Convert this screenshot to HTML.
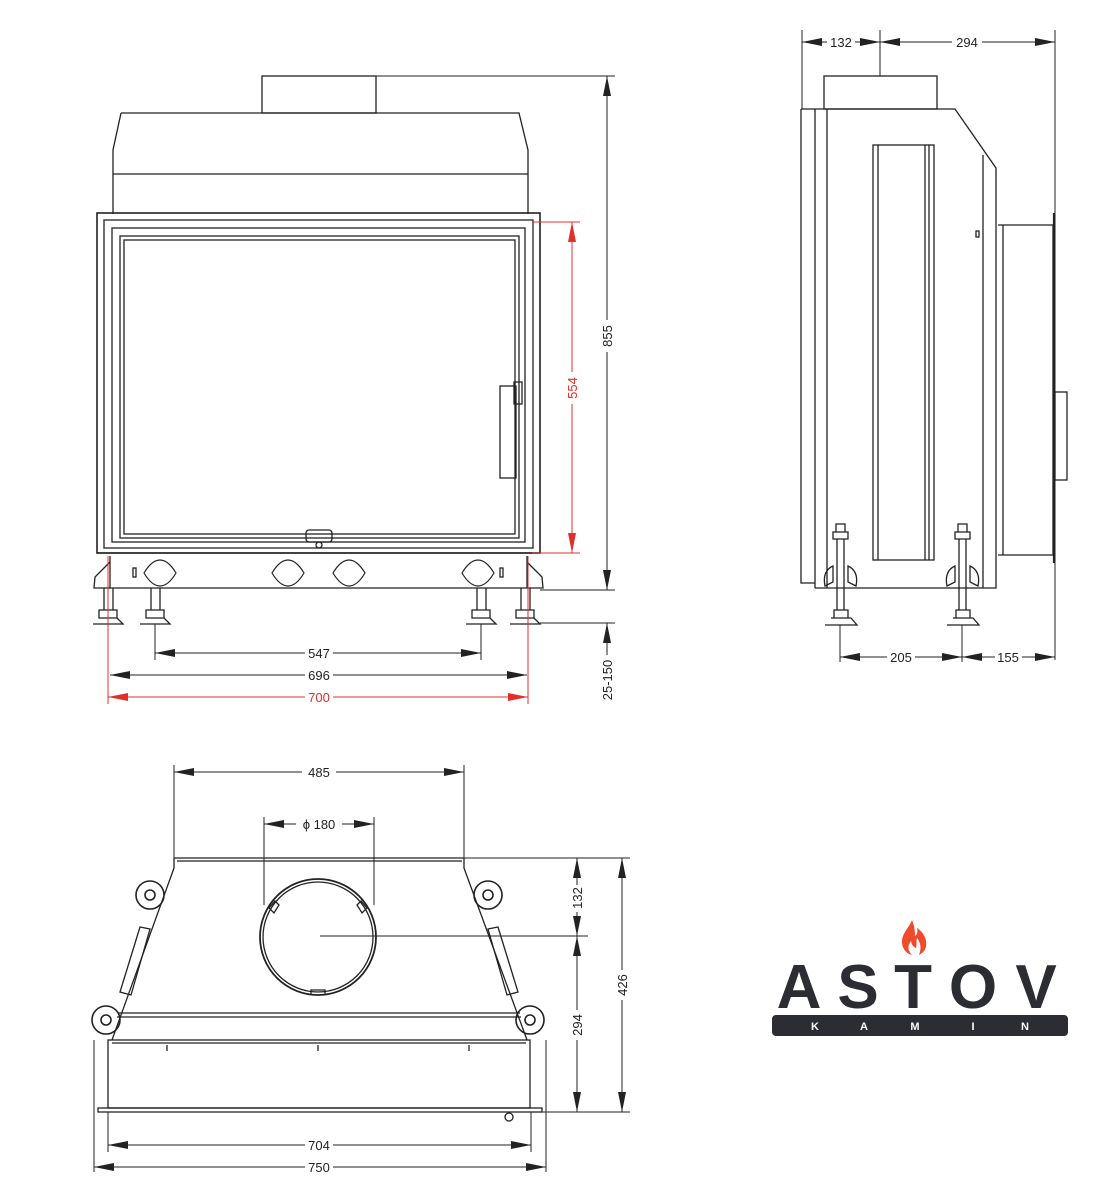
<!DOCTYPE html>
<html><head><meta charset="utf-8"><style>
html,body{margin:0;padding:0;background:#fff}
svg{display:block}
text{font-family:"Liberation Sans",Arial,sans-serif}
</style></head><body>
<svg width="1120" height="1200" viewBox="0 0 1120 1200" xmlns="http://www.w3.org/2000/svg">
<defs>
<marker id="a" viewBox="0 0 20 8" refX="20" refY="4" markerWidth="20" markerHeight="8" orient="auto-start-reverse" markerUnits="userSpaceOnUse"><path d="M0,0L20,4L0,8z" fill="#222"/></marker>
<marker id="r" viewBox="0 0 20 8" refX="20" refY="4" markerWidth="20" markerHeight="8" orient="auto-start-reverse" markerUnits="userSpaceOnUse"><path d="M0,0L20,4L0,8z" fill="#e0302a"/></marker>
<path id="ov" d="M-16,0 C-10,-10 -5,-13 0,-13 C5,-13 10,-10 16,0 C10,10 5,13 0,13 C-5,13 -10,10 -16,0Z"/>
</defs>
<g fill="none" stroke="#222" stroke-width="1.3">
<rect x="262" y="76" width="114" height="37"/>
<path d="M121,113 L519,113 L528,150 L528,214 M113,214 L113,150 L121,113"/>
<line x1="113" y1="174" x2="528" y2="174"/>
<rect x="97" y="213" width="443" height="340" stroke-width="1.6"/>
<rect x="104" y="220" width="429" height="328"/>
<rect x="112" y="228" width="413" height="314"/>
<rect x="120" y="236" width="399" height="302"/>
<rect x="124" y="240" width="391" height="294"/>
<rect x="500" y="386" width="16" height="92"/>
<rect x="514" y="382" width="8" height="22"/>
<rect x="306" y="530" width="26" height="12" rx="3"/>
<circle cx="319" cy="545" r="3"/>
<path d="M97,553 L540,553 M110,556 L110,588 L527,588 L527,556"/>
<path d="M110,562 L95,577 L94,588 L110,588 M527,562 L542,577 L543,588 L527,588"/>
<g stroke-width="1.2">
<use href="#ov" x="160" y="573"/>
<use href="#ov" x="288" y="573"/>
<use href="#ov" x="349" y="573"/>
<use href="#ov" x="478" y="573"/>
</g>
<rect x="133" y="568" width="3" height="9"/><rect x="500" y="568" width="3" height="9"/>
<g>
<path d="M104,588 V610 M113,588 V610 M99,610 h18 v8 h-18z M93,624 L123,624 L117,618 L99,618"/>
<path d="M151,588 V610 M160,588 V610 M146,610 h18 v8 h-18z M140,624 L170,624 L164,618 L146,618"/>
<path d="M477,588 V610 M486,588 V610 M472,610 h18 v8 h-18z M466,624 L496,624 L490,618 L472,618"/>
<path d="M521,588 V610 M530,588 V610 M516,610 h18 v8 h-18z M510,624 L540,624 L534,618 L516,618"/>
</g>
</g>
<g stroke="#222" stroke-width="1" fill="none">
<line x1="376" y1="76" x2="615" y2="76"/>
<line x1="540" y1="590" x2="615" y2="590"/>
<line x1="540" y1="623" x2="615" y2="623"/>
<line x1="607" y1="76" x2="607" y2="320" marker-start="url(#a)"/>
<line x1="607" y1="352" x2="607" y2="590" marker-end="url(#a)"/>
<line x1="607" y1="623" x2="607" y2="655" marker-start="url(#a)"/>
<line x1="155" y1="624" x2="155" y2="660"/><line x1="481" y1="624" x2="481" y2="660"/>
<line x1="155" y1="653" x2="305" y2="653" marker-start="url(#a)"/>
<line x1="333" y1="653" x2="481" y2="653" marker-end="url(#a)"/>
<line x1="110" y1="675" x2="305" y2="675" marker-start="url(#a)"/>
<line x1="333" y1="675" x2="527" y2="675" marker-end="url(#a)"/>
</g>
<g stroke="#e0302a" stroke-width="1" fill="none">
<line x1="108" y1="556" x2="108" y2="704"/><line x1="528" y1="556" x2="528" y2="704"/>
<line x1="532" y1="222" x2="580" y2="222"/><line x1="532" y1="553" x2="580" y2="553"/>
<line x1="572" y1="222" x2="572" y2="372" marker-start="url(#r)"/>
<line x1="572" y1="404" x2="572" y2="553" marker-end="url(#r)"/>
<line x1="108" y1="697" x2="305" y2="697" marker-start="url(#r)"/>
<line x1="333" y1="697" x2="528" y2="697" marker-end="url(#r)"/>
</g>
<g font-size="13" fill="#222">
<text x="319" y="658" text-anchor="middle">547</text>
<text x="319" y="680" text-anchor="middle">696</text>
<text x="319" y="702" text-anchor="middle" fill="#e0302a">700</text>
<text transform="translate(612,336) rotate(-90)" text-anchor="middle">855</text>
<text transform="translate(612,680) rotate(-90)" text-anchor="middle">25-150</text>
<text transform="translate(577,388) rotate(-90)" text-anchor="middle" fill="#e0302a">554</text>
</g>

<g fill="none" stroke="#222" stroke-width="1.3">
<rect x="824" y="76" width="113" height="33"/>
<path d="M801,109 L955,109 L996,168 L996,588 L815,588 M801,109 V583 L815,583"/>
<line x1="815" y1="109" x2="815" y2="588"/>
<line x1="827" y1="109" x2="827" y2="588"/>
<line x1="983" y1="155" x2="983" y2="588"/>
<rect x="873" y="145" width="61" height="415"/>
<line x1="878" y1="145" x2="878" y2="560"/>
<line x1="925" y1="145" x2="925" y2="560"/><line x1="929" y1="145" x2="929" y2="560"/>
<rect x="976" y="231" width="3" height="6"/>
<path d="M998,225 L1053,225 L1053,555 L998,555"/>
<line x1="1003" y1="225" x2="1003" y2="555"/>
<line x1="1054" y1="213" x2="1054" y2="563" stroke-width="2.2"/>
<rect x="1055" y="392" width="12" height="88"/>
<path d="M836,524 h9 v8 h-9z M833,532 h15 v7 h-15z M837,539 V610 M844,539 V610 M834,610 h14 v8 h-14z M825,625 L857,625 L851,618 L831,618"/>
<path d="M825,586 q-3,-15 8,-20 v16z M856,586 q3,-15 -8,-20 v16z"/>
<path d="M958,524 h9 v8 h-9z M955,532 h15 v7 h-15z M959,539 V610 M966,539 V610 M956,610 h14 v8 h-14z M947,625 L979,625 L973,618 L953,618"/>
<path d="M947,586 q-3,-15 8,-20 v16z M978,586 q3,-15 -8,-20 v16z"/>
</g>
<g stroke="#222" stroke-width="1" fill="none">
<line x1="802" y1="30" x2="802" y2="109"/><line x1="880" y1="30" x2="880" y2="76"/><line x1="1055" y1="30" x2="1055" y2="660"/>
<line x1="802" y1="42" x2="827" y2="42" marker-start="url(#a)"/>
<line x1="855" y1="42" x2="880" y2="42" marker-end="url(#a)"/>
<line x1="880" y1="42" x2="952" y2="42" marker-start="url(#a)"/>
<line x1="982" y1="42" x2="1055" y2="42" marker-end="url(#a)"/>
<line x1="840" y1="625" x2="840" y2="662"/><line x1="962" y1="625" x2="962" y2="662"/>
<line x1="840" y1="657" x2="887" y2="657" marker-start="url(#a)"/>
<line x1="915" y1="657" x2="962" y2="657" marker-end="url(#a)"/>
<line x1="962" y1="657" x2="995" y2="657" marker-start="url(#a)"/>
<line x1="1022" y1="657" x2="1055" y2="657" marker-end="url(#a)"/>
</g>
<g font-size="13" fill="#222">
<text x="841" y="47" text-anchor="middle">132</text>
<text x="967" y="47" text-anchor="middle">294</text>
<text x="901" y="662" text-anchor="middle">205</text>
<text x="1008" y="662" text-anchor="middle">155</text>
</g>

<g fill="none" stroke="#222" stroke-width="1.3">
<line x1="174" y1="858" x2="464" y2="858"/>
<line x1="177" y1="861" x2="462" y2="861"/>
<path d="M174,858 L174,868 L112,1040 M464,858 L464,868 L527,1040"/>
<line x1="118" y1="1013" x2="520" y2="1013"/>
<line x1="117" y1="1017" x2="521" y2="1017"/>
<rect x="108" y="1040" width="422" height="68"/>
<line x1="112" y1="1043" x2="526" y2="1043"/>
<rect x="98" y="1108" width="444" height="4"/>
<circle cx="318" cy="937" r="58" stroke-width="1.8"/>
<circle cx="318" cy="937" r="55"/>
<path d="M269,908 l6,-7 4,4 -5,8z M367,908 l-6,-7 -4,4 5,8z M311,995 v-5 h14 v5"/>
<circle cx="509" cy="1117" r="4"/>
<path d="M167,1045 v6 M318,1045 v6 M469,1045 v6"/>
<g stroke-width="1.6">
<circle cx="150" cy="895" r="14"/><circle cx="150" cy="895" r="5"/>
<circle cx="488" cy="895" r="14"/><circle cx="488" cy="895" r="5"/>
<circle cx="106" cy="1020" r="14"/><circle cx="106" cy="1020" r="5"/>
<circle cx="530" cy="1020" r="14"/><circle cx="530" cy="1020" r="5"/>
</g>
<path d="M140,927 L150,929 L131,995 L120,992 Z"/>
<path d="M498,927 L488,929 L507,995 L518,992 Z"/>
</g>
<g stroke="#222" stroke-width="1" fill="none">
<line x1="174" y1="765" x2="174" y2="858"/><line x1="464" y1="765" x2="464" y2="858"/>
<line x1="174" y1="772" x2="302" y2="772" marker-start="url(#a)"/>
<line x1="336" y1="772" x2="464" y2="772" marker-end="url(#a)"/>
<line x1="264" y1="817" x2="264" y2="905"/><line x1="374" y1="817" x2="374" y2="905"/>
<line x1="264" y1="824" x2="296" y2="824" marker-start="url(#a)"/>
<line x1="342" y1="824" x2="374" y2="824" marker-end="url(#a)"/>
<line x1="320" y1="936" x2="588" y2="936"/>
<line x1="464" y1="858" x2="630" y2="858"/><line x1="542" y1="1112" x2="630" y2="1112"/>
<line x1="577" y1="858" x2="577" y2="885" marker-start="url(#a)"/>
<line x1="577" y1="912" x2="577" y2="936" marker-end="url(#a)"/>
<line x1="577" y1="936" x2="577" y2="1010" marker-start="url(#a)"/>
<line x1="577" y1="1040" x2="577" y2="1112" marker-end="url(#a)"/>
<line x1="622" y1="858" x2="622" y2="970" marker-start="url(#a)"/>
<line x1="622" y1="1000" x2="622" y2="1112" marker-end="url(#a)"/>
<line x1="108" y1="1112" x2="108" y2="1152"/><line x1="531" y1="1112" x2="531" y2="1152"/>
<line x1="94" y1="1040" x2="94" y2="1172"/><line x1="546" y1="1040" x2="546" y2="1172"/>
<line x1="108" y1="1145" x2="305" y2="1145" marker-start="url(#a)"/>
<line x1="333" y1="1145" x2="531" y2="1145" marker-end="url(#a)"/>
<line x1="94" y1="1167" x2="305" y2="1167" marker-start="url(#a)"/>
<line x1="333" y1="1167" x2="546" y2="1167" marker-end="url(#a)"/>
</g>
<g font-size="13" fill="#222">
<text x="319" y="777" text-anchor="middle">485</text>
<text x="319" y="829" text-anchor="middle">ϕ 180</text>
<text x="319" y="1150" text-anchor="middle">704</text>
<text x="319" y="1172" text-anchor="middle">750</text>
<text transform="translate(582,898) rotate(-90)" text-anchor="middle">132</text>
<text transform="translate(582,1025) rotate(-90)" text-anchor="middle">294</text>
<text transform="translate(627,985) rotate(-90)" text-anchor="middle">426</text>
</g>

<path d="M912,920 c-3,8 -10,13 -10,22 c0,7 5,12 10,13 c-4,-4 -5,-9 -1,-14 c1,5 3,6 5,7 c1,-4 0,-7 1,-10 c3,4 5,9 2,17 c6,-3 8,-8 7,-14 c-1,-7 -7,-12 -9,-13 c1,4 0,7 -2,8 c0,-6 -1,-11 -3,-16z" fill="#f04a2a"/>
<g font-size="62" font-weight="bold" fill="#2b2d33" text-anchor="middle">
<text x="799" y="1008">A</text>
<text x="858" y="1008">S</text>
<text x="913" y="1008">T</text>
<text x="973" y="1008">O</text>
<text x="1036" y="1008">V</text>
</g>
<rect x="772" y="1015" width="296" height="21" rx="4" fill="#2b2d33"/>
<g font-size="11" font-weight="bold" fill="#fff" text-anchor="middle">
<text x="815" y="1030">K</text>
<text x="864" y="1030">A</text>
<text x="915" y="1030">M</text>
<text x="973" y="1030">I</text>
<text x="1025" y="1030">N</text>
</g>
</svg>
</body></html>
